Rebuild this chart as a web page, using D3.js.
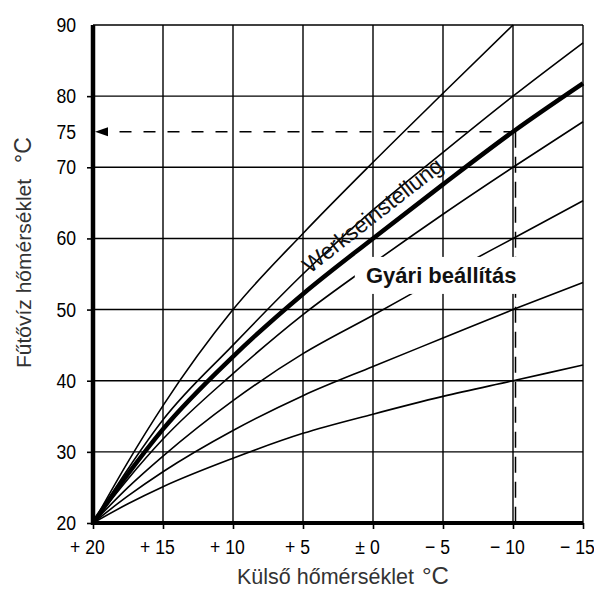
<!DOCTYPE html>
<html>
<head>
<meta charset="utf-8">
<script src="https://cdn.jsdelivr.net/npm/d3@7"></script>
<style>
  body { margin: 0; background: #fff; }
  svg { display: block; }
</style>
</head>
<body>
<div id="chart"></div>
<script>
// outside temperature (°C) where the curves were read, left to right
const outsideTemp = [20, 17.5, 15, 10, 5, 0, -5, -10, -15];

// supply (heating water) temperature for each curve
const curve90 = [20, 28.6, 36.5, 50.0, 60.7, 70.7, 80.4, 90.0, null];
const curve80 = [20, 27.6, 34.5, 45.0, 55.0, 64.0, 72.1, 80.0, 87.5];
const curve75 = [20, 26.9, 33.2, 43.4, 52.2, 60.0, 67.6, 75.0, 81.8]; // factory setting
const curve70 = [20, 26.2, 31.8, 41.0, 49.3, 56.5, 63.4, 70.0, 76.4];
const curve60 = [20, 25.0, 29.4, 37.2, 43.8, 49.2, 54.7, 60.0, 65.3];
const curve50 = [20, 23.8, 27.2, 33.0, 37.9, 42.0, 46.0, 50.0, 53.8];
const curve40 = [20, 22.7, 25.1, 29.1, 32.6, 35.3, 37.8, 40.0, 42.2];

const xTicks = [20, 15, 10, 5, 0, -5, -10, -15];
const xTickLabels = ["+ 20", "+ 15", "+ 10", "+ 5", "± 0", "− 5", "− 10", "− 15"];
const yTicks = [20, 30, 40, 50, 60, 70, 75, 80, 90];
const yGrid = [20, 30, 40, 50, 60, 70, 80, 90];

const marker = { outside: -10, supply: 75 };

const width = 594, height = 590;
const margin = { top: 25, right: 11, bottom: 67, left: 93 };

const svg = d3.select("#chart")
  .append("svg")
  .attr("width", width)
  .attr("height", height);

const x = d3.scaleLinear().domain([20, -15]).range([margin.left, width - margin.right]);
const y = d3.scaleLinear().domain([20, 90]).range([height - margin.bottom, margin.top]);

// grid
svg.append("g")
  .selectAll("line")
  .data(xTicks)
  .join("line")
  .attr("x1", d => x(d)).attr("x2", d => x(d))
  .attr("y1", y(20)).attr("y2", y(90))
  .attr("stroke", "#000").attr("stroke-width", 1.4);

svg.append("g")
  .selectAll("line")
  .data(yGrid)
  .join("line")
  .attr("x1", x(20)).attr("x2", x(-15))
  .attr("y1", d => y(d)).attr("y2", d => y(d))
  .attr("stroke", "#000").attr("stroke-width", 1.4);

// dashed reading guide: -10 °C -> 75 °C
svg.append("line")
  .attr("x1", x(marker.outside) + 2.5).attr("x2", x(marker.outside) + 2.5)
  .attr("y1", y(marker.supply)).attr("y2", y(20))
  .attr("stroke", "#000").attr("stroke-width", 1.5)
  .attr("stroke-dasharray", "16,9");

svg.append("line")
  .attr("x1", x(marker.outside) + 2.5).attr("x2", x(20) + 14)
  .attr("y1", y(marker.supply)).attr("y2", y(marker.supply))
  .attr("stroke", "#000").attr("stroke-width", 1.5)
  .attr("stroke-dasharray", "12,12");

const ax = x(20) + 2, ay = y(marker.supply);
svg.append("path")
  .attr("d", `M${ax},${ay} L${ax + 13},${ay - 4.5} L${ax + 13},${ay + 4.5} Z`)
  .attr("fill", "#000");

// curves
const curves = [
  { values: curve90, width: 1.6 },
  { values: curve80, width: 1.6 },
  { values: curve70, width: 1.6 },
  { values: curve60, width: 1.6 },
  { values: curve50, width: 1.6 },
  { values: curve40, width: 1.6 },
  { values: curve75, width: 4.5 }
];

const line = d3.line()
  .defined(d => d[1] != null)
  .x(d => x(d[0]))
  .y(d => y(d[1]))
  .curve(d3.curveMonotoneX);

svg.append("g")
  .selectAll("path")
  .data(curves)
  .join("path")
  .attr("d", c => line(outsideTemp.map((t, i) => [t, c.values[i]])))
  .attr("fill", "none")
  .attr("stroke", "#000")
  .attr("stroke-width", c => c.width)
  .attr("stroke-linejoin", "round");

// label boxes
svg.append("rect")
  .attr("x", x(1.3)).attr("y", y(57.4))
  .attr("width", x(-10.6) - x(1.3)).attr("height", y(52.2) - y(57.4))
  .attr("fill", "#fff");

svg.append("text")
  .attr("x", x(0.5)).attr("y", y(53.75))
  .attr("font-family", "Liberation Sans, Arial, sans-serif")
  .attr("font-size", 22)
  .attr("font-weight", "bold")
  .attr("fill", "#111")
  .text("Gyári beállítás");

svg.append("text")
  .attr("transform", `translate(${x(4.5)},${y(55.0)}) rotate(-38)`)
  .attr("font-family", "Liberation Sans, Arial, sans-serif")
  .attr("font-size", 22.5)
  .attr("fill", "#111")
  .text("Werkseinstellung");

// axes (tick labels squeezed horizontally like the narrow original type)
const tickFont = "'Liberation Sans', Arial, sans-serif";
const squeeze = 0.86;

const yAxis = svg.append("g")
  .attr("transform", `translate(${x(20)},0)`)
  .call(d3.axisLeft(y).tickValues(yTicks).tickSize(6).tickPadding(11).tickFormat(d3.format("d")));
yAxis.select(".domain").remove();
yAxis.selectAll(".tick line")
  .attr("stroke-width", 1.6)
  .attr("display", d => (d === 75 || d === 90) ? "none" : null);
yAxis.selectAll(".tick text")
  .attr("x", -17 / squeeze)
  .attr("transform", `scale(${squeeze},1)`)
  .attr("font-family", tickFont)
  .attr("font-size", 20.5)
  .attr("fill", "#000");

const xAxis = svg.append("g")
  .attr("transform", `translate(0,${y(20)})`)
  .call(d3.axisBottom(x).tickValues(xTicks).tickSize(6).tickPadding(10)
    .tickFormat((d, i) => xTickLabels[i]));
xAxis.select(".domain").remove();
xAxis.selectAll(".tick line").attr("stroke-width", 1.6);
xAxis.selectAll(".tick text")
  .attr("dx", -6 / squeeze)
  .attr("transform", `scale(${squeeze},1)`)
  .attr("font-family", tickFont)
  .attr("font-size", 20.5)
  .attr("fill", "#000");

// thick axis lines
svg.append("line")
  .attr("x1", x(20)).attr("x2", x(20))
  .attr("y1", y(90)).attr("y2", y(20) + 2)
  .attr("stroke", "#000").attr("stroke-width", 4.5);
svg.append("line")
  .attr("x1", x(20) - 2).attr("x2", x(-15))
  .attr("y1", y(20)).attr("y2", y(20))
  .attr("stroke", "#000").attr("stroke-width", 4);

// titles
const yTitle = svg.append("text")
  .attr("transform", `translate(31,368) rotate(-90)`)
  .attr("font-family", "Liberation Sans, Arial, sans-serif")
  .attr("font-size", 21)
  .attr("fill", "#333");
yTitle.append("tspan").text("Fűtővíz hőmérséklet");
yTitle.append("tspan").attr("dx", 16).attr("font-size", 23).text("°C");

const xTitle = svg.append("text")
  .attr("x", 237).attr("y", 584)
  .attr("font-family", "Liberation Sans, Arial, sans-serif")
  .attr("font-size", 21.5)
  .attr("fill", "#333");
xTitle.append("tspan").text("Külső hőmérséklet");
xTitle.append("tspan").attr("dx", 8).attr("font-size", 24).text("°C");
</script>
</body>
</html>
